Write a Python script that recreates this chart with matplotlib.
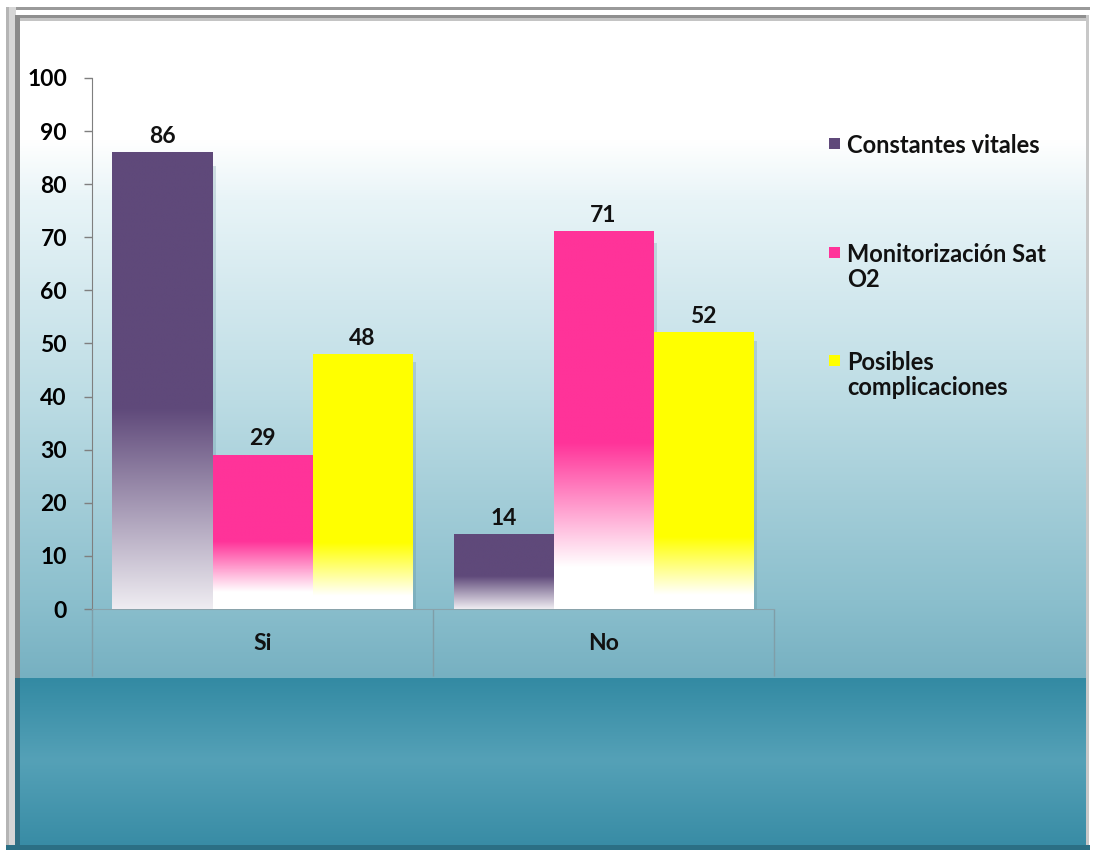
import numpy as np
import matplotlib
matplotlib.use("Agg")
import matplotlib.pyplot as plt
from matplotlib.colors import to_rgb
from matplotlib.patches import Rectangle

# ---- data ----
categories = ["Si", "No"]
series_names = ["Constantes vitales", "Monitorización Sat\nO2", "Posibles\ncomplicaciones"]
constantes_vitales = [86, 14]
monitorizacion_sat = [29, 71]
posibles_complic = [48, 52]
series_values = [constantes_vitales, monitorizacion_sat, posibles_complic]
series_colors = ["#5f497a", "#ff3399", "#ffff00"]
# fraction of bar height where fade to white starts / ends
fade_stops = [(-0.05, 0.44), (0.11, 0.44), (0.05, 0.26)]
yticks = [0, 10, 20, 30, 40, 50, 60, 70, 80, 90, 100]

plt.rcParams['font.family'] = ['Lato', 'DejaVu Sans']
FS = 16.5
LFS = 17

W, H = 1093, 850
fig = plt.figure(figsize=(W / 100, H / 100), dpi=100)

# ---- background panel ----
bg = fig.add_axes([0, 0, 1, 1], zorder=-10)
bg.set_xlim(0, W)
bg.set_ylim(H, 0)
bg.axis("off")

def lerp_stops(stops, n0, n1):
    ys = np.arange(n0, n1)
    pos = [s[0] for s in stops]
    cols = np.array([to_rgb(s[1]) for s in stops])
    out = np.zeros((len(ys), 1, 3))
    for k in range(3):
        out[:, 0, k] = np.interp(ys, pos, cols[:, k])
    return out

upper = lerp_stops([(17, "#ffffff"), (140, "#ffffff"), (200, "#e8f4f7"),
                    (300, "#d2e8ee"), (400, "#bcdce4"), (500, "#a3cdd8"),
                    (600, "#8bbfcd"), (678, "#76b0c1")], 17, 678)
lower = lerp_stops([(678, "#338aa3"), (760, "#55a1b7"), (845, "#388ca5")], 678, 845)
bg.imshow(upper, extent=[20, 1086, 678, 17], aspect="auto", interpolation="bilinear")
bg.imshow(lower, extent=[20, 1086, 845, 678], aspect="auto", interpolation="bilinear")
# frame
bg.add_patch(Rectangle((6, 7), 1084, 2.5, color="#9a9a9a", lw=0))
bg.add_patch(Rectangle((18, 15), 1070, 3, color="#8f8f8f", lw=0))
bg.add_patch(Rectangle((18, 18), 1070, 3, color="#c4c4c4", lw=0))
bg.add_patch(Rectangle((6, 7), 3, 840, color="#b5b5b5", lw=0))
bg.add_patch(Rectangle((9, 7), 7, 840, color="#d6d6d6", lw=0))
bg.add_patch(Rectangle((15, 15), 5, 663, color="#8a8a8a", lw=0))
bg.add_patch(Rectangle((15, 678), 5, 168, color="#2f6f83", lw=0))
bg.add_patch(Rectangle((1086, 15), 3, 831, color="#c8c8c8", lw=0))
bg.add_patch(Rectangle((6, 845), 1084, 5, color="#2b6f84", lw=0))
bg.set_xlim(0, W)
bg.set_ylim(H, 0)

# ---- chart axes ----
ax = fig.add_axes([92 / W, 1 - 609 / H, 682 / W, (609 - 78) / H])
ax.patch.set_alpha(0)

x = np.arange(len(categories))
bw = 100 / 341
offsets = [-bw, 0, bw]
white = np.array([1.0, 1.0, 1.0])
for vals, name, col, (f0, f1), off in zip(series_values, series_names,
                                          series_colors, fade_stops, offsets):
    bars = ax.bar(x + off, vals, bw, facecolor="none", edgecolor="none", zorder=3)
    c = np.array(to_rgb(col))
    for rect in bars:
        bx, bwid, bh = rect.get_x(), rect.get_width(), rect.get_height()
        # soft shadow on the right
        ax.add_patch(Rectangle((bx + bwid, 0), 0.01, bh * 0.97,
                               color="#4d7f8c", alpha=0.22, lw=0, zorder=2))
        frac = np.linspace(0, 1, 256)
        t = np.clip((frac - f0) / (f1 - f0), 0, 1)[:, None]
        img = (white * (1 - t) + c * t)[:, None, :]
        ax.imshow(img, extent=[bx, bx + bwid, 0, bh], origin="lower",
                  aspect="auto", interpolation="bilinear", zorder=3)
    ax.bar_label(bars, labels=[str(v) for v in vals], padding=4,
                 fontsize=FS, fontweight="bold", color="#111111")

ax.set_xlim(-0.5, len(categories) - 0.5)
ax.set_ylim(0, 100)
ax.set_yticks(yticks)
ax.set_yticklabels([str(v) for v in yticks], fontsize=FS, fontweight="bold")
ax.tick_params(axis="y", length=6, width=1, color="#7f7f7f", pad=12)

ax.set_xticks(np.arange(len(categories) + 1) - 0.5)
ax.set_xticklabels([])
ax.tick_params(axis="x", which="major", length=48, width=1, color="#7f9ea8",
               direction="out")
ax.set_xticks(x, minor=True)
ax.set_xticklabels(categories, minor=True, fontsize=FS, fontweight="bold",
                   color="#111111")
ax.tick_params(axis="x", which="minor", length=0, pad=17)

for s in ["top", "right"]:
    ax.spines[s].set_visible(False)
ax.spines["left"].set_color("#7f7f7f")
ax.spines["bottom"].set_color("#8aa3ab")

# ---- legend ----
leg_y = [146, 255, 363]
for name, col, ly in zip(series_names, series_colors, leg_y):
    bg.add_patch(Rectangle((829, ly - 8), 11, 11, color=col, lw=0))
    bg.text(847, ly - 12, name, fontsize=LFS, fontweight="bold", color="#111111",
            va="top", ha="left", linespacing=1.1)

fig.savefig("out.png", dpi=100)
